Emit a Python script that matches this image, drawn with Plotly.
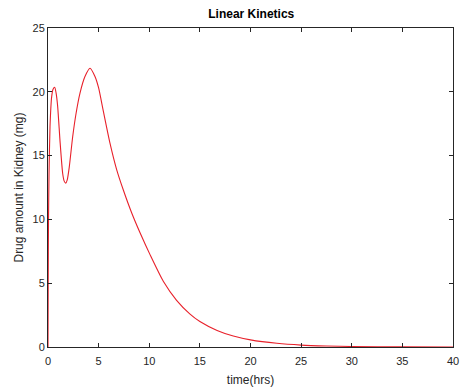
import plotly.graph_objects as go

time_hrs = [0, 0.02, 0.05, 0.1, 0.2, 0.36, 0.5, 0.66, 0.8, 0.95, 1.2, 1.45, 1.6, 1.75, 1.9,
            2.1, 2.44, 2.77, 3.16, 3.65, 4.15, 4.64, 5.0, 5.46, 6.12, 6.78, 7.44, 8.27, 9.09,
            10.1, 11.4, 12.7, 14.0, 15.0, 16.7, 18.3, 20.0, 22.6, 25.0, 27.5, 30, 35, 40]
amount_mg = [0, 5, 10, 13.5, 17.3, 19.6, 20.2, 20.35, 19.9, 18.9, 16.0, 13.6, 13.0, 12.84, 13.1,
             14.1, 16.5, 18.3, 19.9, 21.2, 21.85, 21.2, 20.3, 18.5, 15.97, 13.9, 12.3, 10.5, 8.95,
             7.2, 5.13, 3.66, 2.6, 2.0, 1.3, 0.86, 0.56, 0.29, 0.15, 0.08, 0.04, 0.01, 0.003]

x_ticks = [0, 5, 10, 15, 20, 25, 30, 35, 40]
y_ticks = [0, 5, 10, 15, 20, 25]

fig = go.Figure()
fig.add_trace(go.Scatter(x=time_hrs, y=amount_mg, mode="lines",
                         line=dict(color="#e8202a", width=1.1, shape="spline", smoothing=0.6),
                         showlegend=False, hoverinfo="skip"))

axis_common = dict(showgrid=False, zeroline=False, showline=True, linecolor="#262626",
                   linewidth=1, mirror="ticks", ticks="inside", ticklen=4, tickwidth=1,
                   tickcolor="#262626", automargin=False,
                   tickfont=dict(family="Liberation Sans, Arial", size=11, color="#262626"))

fig.update_layout(
    width=461, height=387,
    margin=dict(l=48, r=8, t=28, b=40),
    paper_bgcolor="white", plot_bgcolor="white",
    title=dict(text="<b>Linear Kinetics</b>", x=0.545, xanchor="center", y=0.965, yanchor="middle",
               font=dict(family="Liberation Sans, Arial", size=12, color="#000000")),
    xaxis=dict(range=[0, 40], tickvals=x_ticks, ticktext=[str(v) for v in x_ticks],
               ticklabelstandoff=4,
               title=dict(text="time(hrs)", standoff=10,
                          font=dict(family="Liberation Sans, Arial", size=12, color="#262626")),
               **axis_common),
    yaxis=dict(range=[0, 25], tickvals=y_ticks, ticktext=[str(v) for v in y_ticks],
               title=dict(text="Drug amount in Kidney (mg)", standoff=6,
                          font=dict(family="Liberation Sans, Arial", size=12, color="#262626")),
               **axis_common),
)

fig.write_html("out.html")
